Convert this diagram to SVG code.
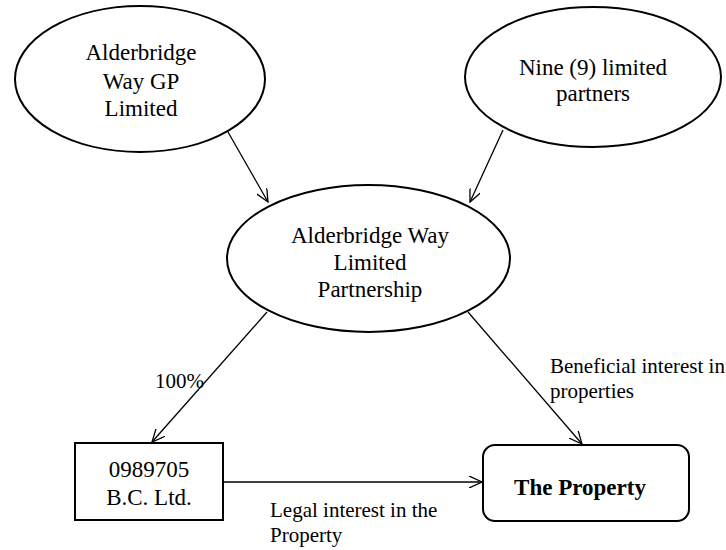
<svg xmlns="http://www.w3.org/2000/svg" width="726" height="550" viewBox="0 0 726 550">
<defs>
<style>
.n{fill:#fff;stroke:#000;stroke-width:2}
.t{font-family:"Liberation Serif","Times New Roman",serif;font-size:23px;fill:#000;text-anchor:middle}
.l{font-family:"Liberation Serif","Times New Roman",serif;font-size:21px;fill:#000}
.c{fill:none;stroke:#000;stroke-width:1.3}
</style>
<marker id="a" viewBox="0 0 14 12" refX="13" refY="6" markerWidth="14" markerHeight="12" markerUnits="userSpaceOnUse" orient="auto">
<path d="M0,0 L13,6 L0,12" fill="none" stroke="#000" stroke-width="1.3"/>
</marker>
</defs>
<rect width="726" height="550" fill="#fff"/>
<g id="connectors">
<line class="c" x1="228" y1="132" x2="268" y2="202" marker-end="url(#a)"/>
<line class="c" x1="503" y1="130" x2="470" y2="202" marker-end="url(#a)"/>
<line class="c" x1="267" y1="312" x2="152" y2="442" marker-end="url(#a)"/>
<line class="c" x1="468" y1="312" x2="582" y2="444" marker-end="url(#a)"/>
<line class="c" x1="223" y1="482" x2="482" y2="482" marker-end="url(#a)"/>
<text class="l" x="155" y="388">100%</text>
<text class="l" x="550" y="373">Beneficial interest in</text>
<text class="l" x="550" y="398">properties</text>
<text class="l" x="270" y="517">Legal interest in the</text>
<text class="l" x="270" y="542">Property</text>
</g>
<g id="gp">
<ellipse class="n" cx="140" cy="79" rx="125" ry="73"/>
<text class="t" x="141" y="60">Alderbridge</text>
<text class="t" x="141" y="89">Way GP</text>
<text class="t" x="141" y="116">Limited</text>
</g>
<g id="lps">
<ellipse class="n" cx="593" cy="77" rx="128" ry="70"/>
<text class="t" x="593" y="75">Nine (9) limited</text>
<text class="t" x="593" y="101">partners</text>
</g>
<g id="lp">
<ellipse class="n" cx="368.5" cy="258.5" rx="141.5" ry="73.5"/>
<text class="t" x="370" y="243">Alderbridge Way</text>
<text class="t" x="370" y="270">Limited</text>
<text class="t" x="370" y="297">Partnership</text>
</g>
<g id="bc">
<rect class="n" x="75" y="443" width="148" height="77" stroke-width="1.5"/>
<text class="t" x="149" y="477">0989705</text>
<text class="t" x="149" y="505">B.C. Ltd.</text>
</g>
<g id="property">
<rect class="n" x="483" y="445" width="206" height="76" rx="12" stroke-width="3"/>
<text class="t" x="580" y="495" font-weight="bold">The Property</text>
</g>
</svg>
